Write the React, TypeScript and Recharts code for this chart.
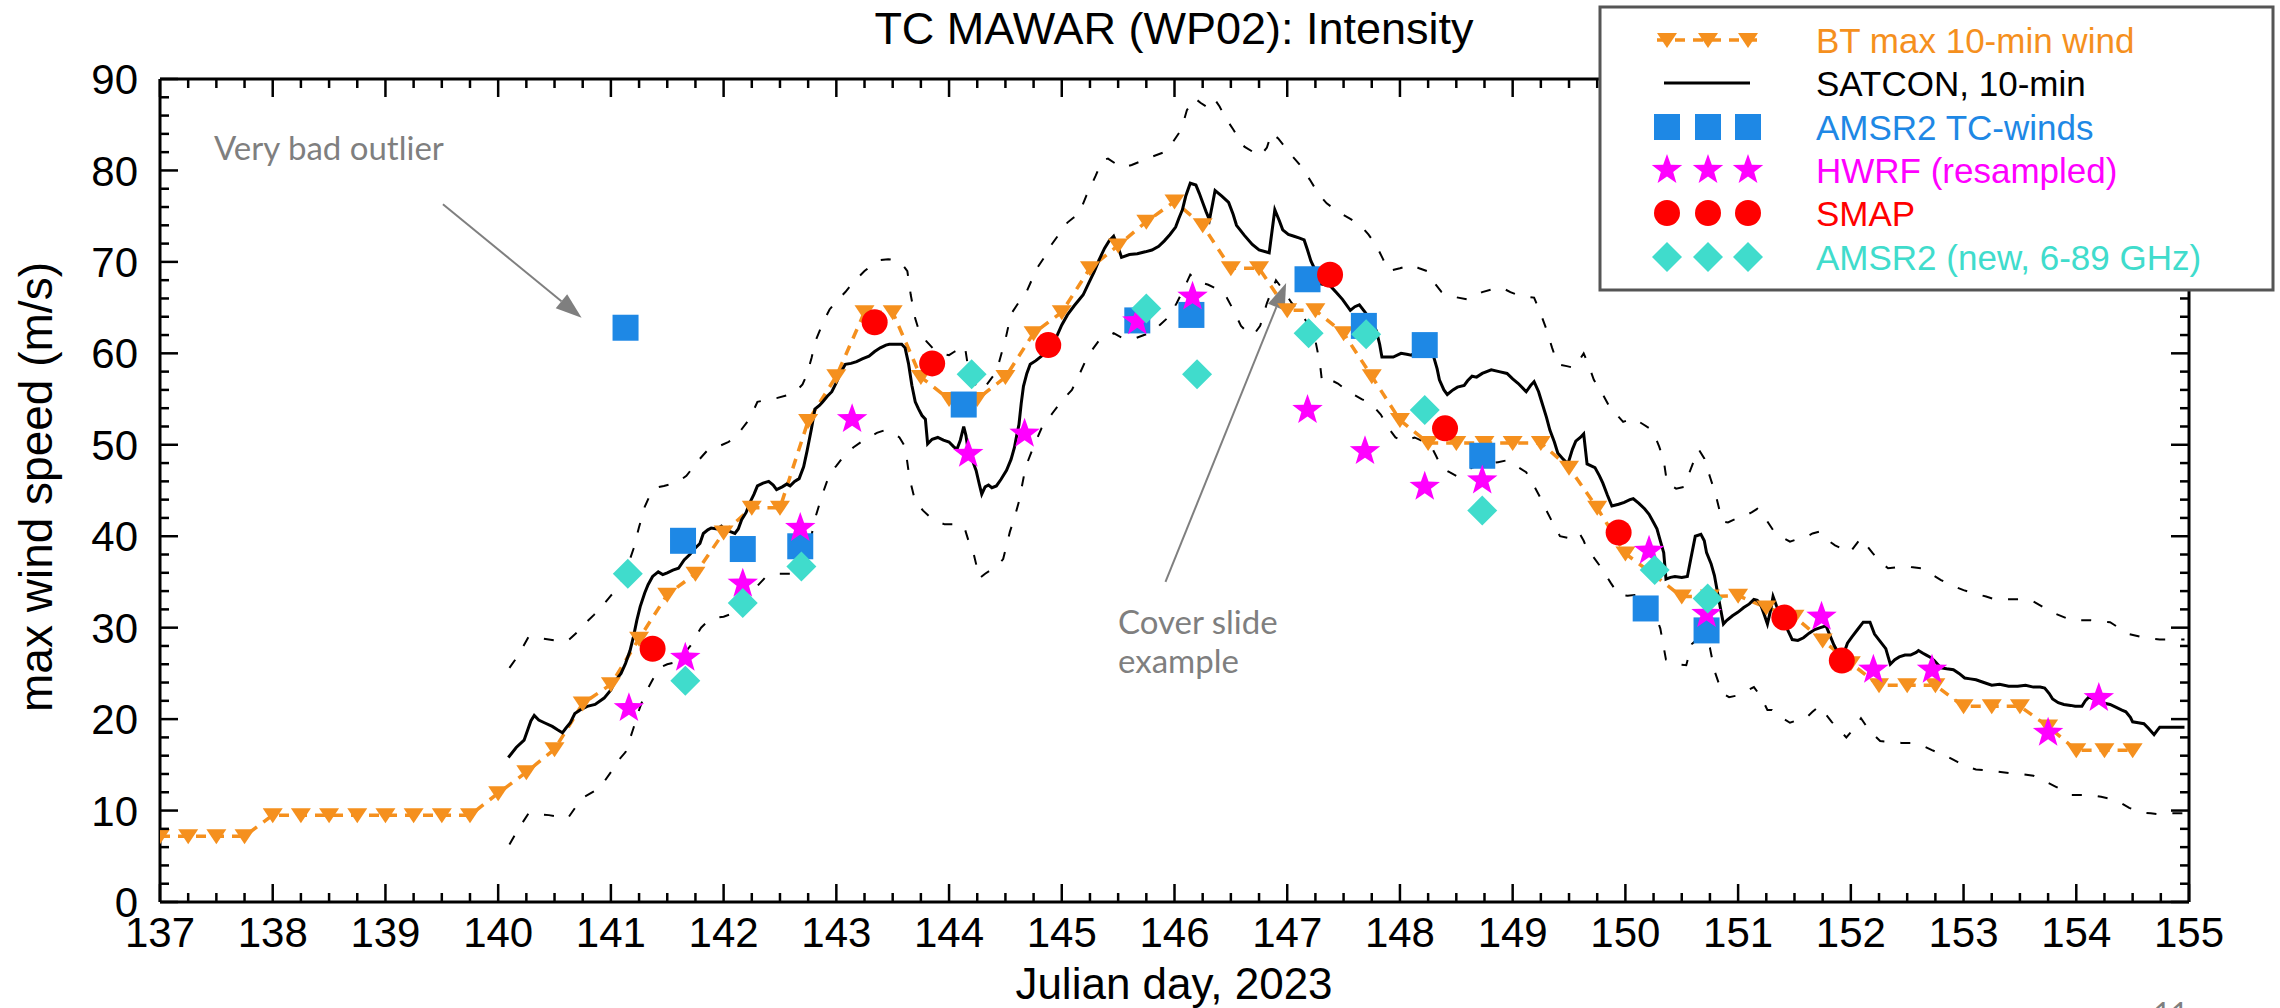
import React from "react";
import {ComposedChart, Line, Scatter, XAxis, YAxis, ReferenceLine} from "recharts";

// day of year, max wind (m/s)
const btTrack: [number, number][] = [
    [137.0, 7.2], [137.25, 7.2], [137.5, 7.2], [137.75, 7.2],
    [138.0, 9.5], [138.25, 9.5], [138.5, 9.5], [138.75, 9.5], [139.0, 9.5], [139.25, 9.5], [139.5, 9.5], [139.75, 9.5],
    [140.0, 11.9], [140.25, 14.2], [140.5, 16.7], [140.75, 21.7], [141.0, 23.8], [141.25, 28.8], [141.5, 33.6], [141.75, 35.9],
    [142.0, 40.4], [142.25, 43.1], [142.5, 43.1], [142.75, 52.6], [143.0, 57.5], [143.25, 64.5], [143.5, 64.5], [143.75, 57.4],
    [144.0, 55.0], [144.25, 55.0], [144.5, 57.4], [144.75, 62.2], [145.0, 64.5], [145.25, 69.3], [145.5, 71.8], [145.75, 74.4],
    [146.0, 76.6], [146.25, 74.0], [146.5, 69.3], [146.75, 69.3], [147.0, 64.7], [147.25, 64.7], [147.5, 62.2], [147.75, 57.5],
    [148.0, 52.7], [148.25, 50.2], [148.5, 50.2], [148.75, 50.2], [149.0, 50.2], [149.25, 50.2], [149.5, 47.5], [149.75, 43.1],
    [150.0, 38.1], [150.25, 35.8], [150.5, 33.4], [150.75, 33.4], [151.0, 33.5], [151.25, 32.2], [151.5, 31.2], [151.75, 28.6],
    [152.0, 26.1], [152.25, 23.7], [152.5, 23.7], [152.75, 23.7], [153.0, 21.4], [153.25, 21.4], [153.5, 21.4], [153.75, 19.2],
    [154.0, 16.6], [154.25, 16.6], [154.5, 16.6],
];

const satconTrack: [number, number][] = [
    [140.09, 15.8], [140.16, 16.9], [140.23, 17.7], [140.29, 19.8], [140.32, 20.4], [140.36, 19.9], [140.41, 19.6], [140.48, 19.2],
    [140.53, 18.8], [140.57, 18.5], [140.6, 19.0], [140.64, 19.6], [140.68, 20.6], [140.74, 21.1], [140.79, 21.4], [140.86, 21.6],
    [140.94, 22.3], [141.0, 23.2], [141.04, 24.2], [141.09, 25.0], [141.13, 26.1], [141.17, 27.5], [141.2, 29.0], [141.23, 30.8],
    [141.26, 32.3], [141.3, 33.8], [141.33, 34.7], [141.37, 35.6], [141.42, 36.1], [141.46, 35.8], [141.5, 36.0], [141.55, 36.3],
    [141.6, 36.5], [141.65, 37.4], [141.7, 38.0], [141.74, 38.6], [141.79, 39.2], [141.82, 40.3], [141.86, 40.7], [141.89, 40.9],
    [141.94, 40.8], [141.98, 41.1], [142.02, 40.6], [142.06, 40.5], [142.1, 40.3], [142.13, 40.8], [142.16, 41.8], [142.2, 42.6],
    [142.23, 43.6], [142.27, 44.6], [142.3, 45.5], [142.35, 45.8], [142.4, 46.0], [142.44, 45.6], [142.47, 45.1], [142.52, 45.4],
    [142.56, 45.7], [142.59, 45.5], [142.63, 46.0], [142.67, 46.3], [142.71, 47.6], [142.74, 49.3], [142.78, 51.8], [142.81, 53.9],
    [142.85, 54.3], [142.88, 54.7], [142.92, 55.3], [142.96, 55.8], [143.0, 56.8], [143.03, 57.7], [143.08, 58.8], [143.13, 58.9],
    [143.18, 59.1], [143.23, 59.4], [143.29, 59.7], [143.34, 60.2], [143.39, 60.6], [143.44, 60.9], [143.47, 61.0], [143.52, 61.0],
    [143.58, 61.0], [143.61, 60.6], [143.64, 58.9], [143.67, 56.5], [143.7, 54.7], [143.73, 53.9], [143.76, 53.2], [143.79, 52.8],
    [143.81, 50.1], [143.85, 50.6], [143.9, 50.8], [143.95, 50.5], [144.0, 50.3], [144.04, 49.8], [144.07, 49.5], [144.1, 50.5],
    [144.13, 52.0], [144.15, 51.0], [144.17, 49.3], [144.21, 48.2], [144.24, 47.2], [144.27, 45.6], [144.29, 44.6], [144.32, 45.4],
    [144.35, 45.6], [144.38, 45.3], [144.42, 45.5], [144.46, 46.2], [144.51, 47.2], [144.55, 48.4], [144.58, 49.7], [144.6, 51.0],
    [144.62, 52.2], [144.64, 54.5], [144.66, 56.4], [144.69, 57.8], [144.72, 58.8], [144.77, 59.2], [144.82, 59.7], [144.87, 60.3],
    [144.92, 61.0], [144.96, 62.0], [145.0, 63.1], [145.05, 64.2], [145.11, 65.2], [145.15, 65.8], [145.19, 66.4], [145.24, 67.7],
    [145.29, 69.0], [145.33, 70.2], [145.38, 71.5], [145.42, 72.3], [145.46, 72.8], [145.5, 71.6], [145.53, 70.5], [145.6, 70.8],
    [145.67, 70.9], [145.74, 71.1], [145.8, 71.3], [145.86, 71.7], [145.91, 72.3], [145.96, 73.0], [146.01, 73.8], [146.04, 74.8],
    [146.07, 75.7], [146.1, 77.2], [146.14, 78.6], [146.19, 78.4], [146.22, 77.5], [146.25, 76.5], [146.28, 75.5], [146.31, 74.6],
    [146.34, 76.5], [146.36, 77.8], [146.42, 77.2], [146.48, 76.5], [146.52, 75.2], [146.55, 74.0], [146.62, 72.9], [146.69, 71.9],
    [146.75, 71.3], [146.84, 71.0], [146.89, 75.7], [146.93, 74.5], [146.96, 73.5], [147.01, 73.0], [147.06, 72.8], [147.11, 72.6],
    [147.15, 72.4], [147.18, 71.3], [147.21, 70.1], [147.26, 68.8], [147.3, 67.6], [147.38, 67.4], [147.44, 66.6], [147.49, 65.9],
    [147.56, 64.7], [147.6, 65.1], [147.64, 65.3], [147.69, 64.5], [147.73, 63.8], [147.79, 62.5], [147.82, 61.0], [147.84, 59.6],
    [147.9, 59.6], [147.94, 59.6], [148.01, 60.0], [148.06, 59.9], [148.1, 59.8], [148.16, 60.3], [148.22, 60.9], [148.27, 60.2],
    [148.3, 59.6], [148.33, 58.3], [148.35, 57.1], [148.39, 56.0], [148.42, 55.5], [148.47, 56.0], [148.51, 56.3], [148.57, 56.5],
    [148.6, 57.0], [148.64, 57.5], [148.68, 57.4], [148.73, 57.8], [148.81, 58.2], [148.88, 58.0], [148.95, 57.8], [149.0, 57.2],
    [149.05, 56.7], [149.12, 55.8], [149.16, 56.5], [149.19, 56.9], [149.23, 55.8], [149.26, 54.6], [149.3, 53.0], [149.33, 51.6],
    [149.37, 50.3], [149.4, 49.1], [149.45, 48.4], [149.49, 47.9], [149.53, 49.5], [149.56, 50.4], [149.6, 50.8], [149.63, 51.2],
    [149.66, 47.9], [149.73, 47.5], [149.77, 46.6], [149.8, 45.8], [149.84, 44.5], [149.88, 43.3], [149.94, 43.5], [149.99, 43.7],
    [150.04, 44.0], [150.07, 44.1], [150.12, 43.6], [150.17, 43.0], [150.21, 42.4], [150.25, 41.5], [150.28, 40.8], [150.31, 39.5],
    [150.34, 38.2], [150.36, 35.3], [150.4, 35.5], [150.44, 35.6], [150.5, 35.5], [150.55, 35.6], [150.58, 37.5], [150.62, 40.0],
    [150.67, 40.2], [150.7, 39.5], [150.72, 38.2], [150.76, 37.0], [150.79, 35.7], [150.83, 33.0], [150.87, 30.4], [150.9, 30.8],
    [150.95, 31.3], [151.0, 31.7], [151.05, 32.2], [151.1, 32.6], [151.14, 33.1], [151.17, 33.0], [151.2, 32.5], [151.23, 31.5],
    [151.26, 30.4], [151.29, 32.0], [151.31, 33.4], [151.34, 32.4], [151.38, 31.2], [151.43, 30.0], [151.48, 28.7], [151.53, 28.6],
    [151.58, 28.9], [151.63, 29.4], [151.68, 29.8], [151.73, 30.0], [151.78, 30.2], [151.82, 29.0], [151.85, 28.1], [151.89, 27.2],
    [151.92, 26.9], [151.95, 27.6], [151.97, 28.3], [152.01, 29.0], [152.06, 29.8], [152.11, 30.6], [152.17, 30.6], [152.21, 29.3],
    [152.26, 28.5], [152.31, 27.7], [152.35, 26.0], [152.39, 26.5], [152.43, 26.8], [152.48, 27.0], [152.53, 27.0], [152.58, 27.3],
    [152.6, 27.5], [152.64, 27.2], [152.67, 27.0], [152.7, 26.8], [152.74, 26.4], [152.8, 25.6], [152.85, 25.5], [152.91, 25.4],
    [152.96, 25.0], [153.01, 24.5], [153.06, 24.4], [153.11, 24.3], [153.18, 24.0], [153.25, 23.7], [153.32, 23.8], [153.4, 23.6],
    [153.48, 23.6], [153.55, 23.7], [153.62, 23.5], [153.68, 23.5], [153.72, 23.4], [153.76, 22.8], [153.79, 22.2], [153.84, 21.8],
    [153.89, 21.6], [153.95, 21.5], [153.99, 21.4], [154.05, 21.4], [154.08, 22.0], [154.11, 22.4], [154.16, 22.2], [154.21, 21.9],
    [154.26, 21.7], [154.3, 21.6], [154.35, 21.3], [154.4, 21.0], [154.44, 20.8], [154.48, 20.2], [154.5, 19.7], [154.55, 19.6],
    [154.6, 19.5], [154.64, 19.0], [154.69, 18.3], [154.72, 18.8], [154.74, 19.1], [154.85, 19.1], [154.96, 19.1],
];

const satconUpper: [number, number][] = [
    [140.1, 25.6], [140.18, 27.0], [140.27, 29.0], [140.35, 28.9], [140.45, 28.7], [140.55, 28.5], [140.62, 28.6], [140.7, 29.5],
    [140.75, 30.2], [140.85, 31.4], [140.92, 32.3], [141.0, 33.5], [141.09, 34.8], [141.15, 36.8], [141.2, 38.6], [141.25, 41.0],
    [141.3, 43.2], [141.35, 44.6], [141.4, 45.3], [141.47, 45.5], [141.53, 45.7], [141.6, 46.0], [141.67, 46.6], [141.72, 47.4],
    [141.77, 48.2], [141.85, 49.3], [141.92, 49.8], [141.97, 49.9], [142.04, 50.3], [142.11, 50.8], [142.16, 51.7], [142.21, 52.5],
    [142.26, 53.6], [142.3, 54.7], [142.38, 54.9], [142.47, 55.1], [142.56, 55.4], [142.64, 55.8], [142.7, 56.6], [142.74, 57.7],
    [142.78, 59.5], [142.82, 61.5], [142.88, 63.3], [142.94, 64.8], [143.01, 65.8], [143.08, 66.7], [143.16, 67.9], [143.25, 69.0],
    [143.32, 69.7], [143.39, 70.2], [143.46, 70.3], [143.52, 70.2], [143.58, 69.8], [143.63, 69.0], [143.66, 66.4], [143.7, 63.8],
    [143.73, 62.6], [143.8, 61.3], [143.86, 60.5], [143.92, 60.0], [144.0, 59.8], [144.05, 60.2], [144.1, 60.5], [144.14, 60.8],
    [144.17, 58.4], [144.2, 57.7], [144.25, 56.0], [144.33, 56.5], [144.42, 58.0], [144.5, 61.5], [144.55, 64.3], [144.62, 65.6],
    [144.69, 66.8], [144.74, 68.2], [144.78, 69.3], [144.85, 70.6], [144.91, 71.9], [144.98, 73.1], [145.05, 74.3], [145.1, 74.8],
    [145.15, 75.2], [145.22, 77.3], [145.3, 79.4], [145.36, 81.1], [145.41, 81.3], [145.47, 80.8], [145.54, 80.3], [145.62, 80.6],
    [145.7, 81.0], [145.8, 81.5], [145.91, 82.0], [145.98, 83.0], [146.04, 84.1], [146.08, 85.3], [146.11, 86.6], [146.15, 87.3],
    [146.18, 87.9], [146.23, 87.4], [146.28, 87.0], [146.32, 87.5], [146.35, 87.9], [146.4, 87.0], [146.45, 85.8], [146.52, 84.5],
    [146.57, 83.5], [146.62, 82.6], [146.7, 82.0], [146.76, 81.6], [146.82, 82.5], [146.86, 84.1], [146.92, 83.5], [146.99, 82.4],
    [147.05, 81.5], [147.12, 80.5], [147.2, 79.0], [147.28, 77.4], [147.35, 76.4], [147.45, 75.5], [147.56, 74.7], [147.65, 74.0],
    [147.72, 73.0], [147.79, 71.8], [147.85, 70.3], [147.9, 69.0], [148.0, 69.3], [148.1, 69.7], [148.17, 69.3], [148.24, 69.0],
    [148.3, 67.8], [148.37, 66.7], [148.47, 66.2], [148.6, 65.9], [148.67, 66.3], [148.73, 66.7], [148.82, 67.0], [148.9, 67.2],
    [148.98, 66.7], [149.06, 66.3], [149.12, 66.2], [149.19, 66.1], [149.25, 64.3], [149.3, 62.6], [149.35, 60.6], [149.4, 58.8],
    [149.48, 58.6], [149.55, 58.4], [149.63, 60.0], [149.68, 58.5], [149.72, 57.1], [149.8, 55.5], [149.87, 53.9], [149.93, 53.2],
    [149.98, 52.5], [150.07, 52.9], [150.15, 52.3], [150.24, 51.6], [150.3, 49.8], [150.34, 48.3], [150.37, 45.8], [150.45, 45.2],
    [150.52, 45.4], [150.6, 48.0], [150.65, 49.5], [150.7, 48.5], [150.75, 46.5], [150.8, 44.6], [150.86, 41.6], [150.91, 41.5],
    [150.98, 41.9], [151.05, 42.2], [151.12, 42.6], [151.17, 43.0], [151.22, 42.6], [151.26, 41.6], [151.33, 40.3], [151.4, 39.8],
    [151.46, 39.4], [151.53, 39.7], [151.6, 39.9], [151.66, 40.3], [151.72, 40.5], [151.79, 39.6], [151.86, 39.0], [151.93, 38.6],
    [151.99, 38.2], [152.04, 39.0], [152.09, 39.8], [152.14, 39.0], [152.19, 38.2], [152.26, 37.2], [152.33, 36.5], [152.4, 36.6],
    [152.47, 36.7], [152.55, 36.6], [152.63, 36.5], [152.72, 35.8], [152.8, 35.2], [152.9, 34.6], [153.0, 34.1], [153.11, 33.7],
    [153.2, 33.4], [153.28, 33.1], [153.4, 33.1], [153.5, 33.1], [153.6, 33.0], [153.7, 32.3], [153.82, 31.5], [153.96, 30.8],
    [154.05, 30.8], [154.13, 30.8], [154.22, 30.7], [154.3, 30.6], [154.4, 29.8], [154.47, 29.3], [154.57, 29.0], [154.66, 28.8],
    [154.74, 28.7], [154.85, 28.7], [154.96, 28.7],
];

const satconLower: [number, number][] = [
    [140.1, 6.3], [140.18, 8.0], [140.27, 9.7], [140.35, 9.6], [140.45, 9.5], [140.55, 9.3], [140.62, 9.2], [140.7, 10.6],
    [140.75, 11.4], [140.85, 12.1], [140.92, 12.8], [141.0, 14.2], [141.06, 15.4], [141.13, 16.4], [141.2, 19.0], [141.25, 21.0],
    [141.3, 22.7], [141.37, 24.3], [141.43, 25.6], [141.5, 26.0], [141.57, 26.2], [141.64, 27.0], [141.71, 28.1], [141.76, 29.2],
    [141.8, 30.0], [141.86, 30.7], [141.94, 31.1], [142.0, 31.2], [142.07, 31.5], [142.14, 32.2], [142.21, 32.9], [142.28, 34.3],
    [142.37, 35.5], [142.47, 35.9], [142.56, 35.9], [142.64, 35.9], [142.7, 37.5], [142.77, 39.6], [142.82, 42.3], [142.88, 44.7],
    [142.94, 46.8], [143.0, 47.7], [143.05, 48.5], [143.15, 49.7], [143.22, 50.3], [143.29, 50.8], [143.36, 51.3], [143.43, 51.6],
    [143.5, 51.3], [143.56, 50.8], [143.61, 49.8], [143.65, 46.3], [143.7, 43.8], [143.77, 42.8], [143.83, 42.1], [143.9, 41.6],
    [143.96, 41.3], [144.03, 41.3], [144.1, 41.3], [144.14, 40.8], [144.17, 39.6], [144.22, 38.0], [144.27, 35.4], [144.32, 35.9],
    [144.37, 36.3], [144.43, 36.8], [144.48, 37.5], [144.54, 40.5], [144.58, 42.0], [144.62, 43.8], [144.68, 47.6], [144.75, 49.8],
    [144.82, 51.8], [144.92, 53.5], [145.0, 54.8], [145.09, 56.0], [145.16, 57.8], [145.23, 59.7], [145.33, 61.4], [145.46, 62.2],
    [145.55, 61.6], [145.64, 61.6], [145.73, 62.0], [145.8, 62.3], [145.87, 63.1], [145.95, 64.0], [146.02, 65.5], [146.08, 67.0],
    [146.14, 68.6], [146.22, 67.8], [146.3, 67.5], [146.38, 67.0], [146.45, 66.4], [146.52, 64.8], [146.59, 63.0], [146.64, 62.4],
    [146.7, 62.0], [146.76, 63.0], [146.82, 65.5], [146.9, 68.0], [146.96, 67.0], [147.04, 65.5], [147.13, 64.3], [147.2, 62.8],
    [147.25, 61.4], [147.29, 58.9], [147.31, 56.8], [147.4, 57.0], [147.45, 56.7], [147.52, 56.0], [147.59, 55.5], [147.66, 55.0],
    [147.73, 54.6], [147.78, 54.0], [147.83, 53.3], [147.9, 51.8], [147.96, 50.8], [148.03, 50.4], [148.13, 50.8], [148.2, 50.4],
    [148.27, 50.0], [148.32, 48.8], [148.37, 47.5], [148.44, 47.0], [148.5, 46.6], [148.57, 47.0], [148.64, 47.5], [148.71, 47.7],
    [148.78, 47.9], [148.87, 48.1], [148.95, 48.3], [149.03, 47.7], [149.12, 47.0], [149.19, 45.5], [149.25, 44.1], [149.3, 42.8],
    [149.35, 41.6], [149.42, 40.0], [149.5, 39.8], [149.59, 40.4], [149.63, 39.5], [149.66, 38.6], [149.73, 37.5], [149.8, 36.3],
    [149.87, 34.9], [149.94, 33.6], [150.02, 33.5], [150.1, 33.6], [150.14, 33.6], [150.2, 33.0], [150.24, 32.4], [150.31, 29.9],
    [150.36, 26.5], [150.45, 26.0], [150.54, 25.9], [150.59, 28.2], [150.66, 29.0], [150.71, 28.5], [150.75, 27.8], [150.79, 25.3],
    [150.86, 22.8], [150.92, 22.4], [151.0, 22.6], [151.06, 23.0], [151.14, 23.5], [151.2, 22.5], [151.26, 21.0], [151.3, 21.0],
    [151.38, 20.2], [151.46, 19.6], [151.53, 19.9], [151.6, 20.1], [151.66, 20.8], [151.72, 21.4], [151.78, 20.5], [151.83, 19.7],
    [151.9, 18.8], [151.96, 18.0], [152.03, 19.0], [152.09, 20.1], [152.15, 19.0], [152.21, 18.2], [152.26, 17.6], [152.35, 17.5],
    [152.45, 17.4], [152.53, 17.4], [152.62, 17.2], [152.72, 16.6], [152.84, 16.0], [152.95, 15.3], [153.03, 14.8], [153.11, 14.5],
    [153.2, 14.4], [153.28, 14.3], [153.4, 14.1], [153.5, 14.0], [153.62, 13.8], [153.72, 13.2], [153.82, 12.6], [153.9, 12.1],
    [153.96, 11.7], [154.05, 11.7], [154.13, 11.7], [154.22, 11.5], [154.3, 11.3], [154.4, 10.8], [154.47, 10.3], [154.57, 9.8],
    [154.66, 9.7], [154.74, 9.6], [154.85, 9.7], [154.96, 9.7],
];

const amsr2TcWinds: [number, number][] = [
    [141.13, 62.8], [141.64, 39.5], [142.17, 38.6], [142.68, 38.9], [144.13, 54.4], [145.67, 63.6], [146.15, 64.2],
    [147.18, 68.1], [147.68, 63.0], [148.22, 60.9], [148.73, 48.8], [150.18, 32.1], [150.72, 29.7],
];

const hwrfResampled: [number, number][] = [
    [141.16, 21.2], [141.66, 26.7], [142.17, 34.8], [142.68, 40.9], [143.14, 52.8], [144.17, 49.0], [144.67, 51.2],
    [145.67, 63.5], [146.16, 66.2], [147.18, 53.8], [147.69, 49.3], [148.22, 45.4], [148.73, 46.1], [150.21, 38.4],
    [150.72, 31.5], [151.74, 31.2], [152.2, 25.4], [152.72, 25.4], [153.75, 18.5], [154.2, 22.3],
];

const smapWinds: [number, number][] = [
    [141.37, 27.7], [143.34, 63.4], [143.85, 58.9], [144.88, 60.9], [147.38, 68.6], [148.4, 51.8], [149.94, 40.4],
    [151.41, 31.1], [151.92, 26.4],
];

const amsr2New: [number, number][] = [
    [141.15, 35.9], [141.66, 24.2], [142.17, 32.7], [142.69, 36.7], [144.2, 57.7], [145.75, 64.9], [146.2, 57.7],
    [147.19, 62.2], [147.7, 62.1], [148.22, 53.8], [148.73, 42.8], [150.26, 36.3], [150.73, 33.2],
];

const dayLabels = [137, 138, 139, 140, 141, 142, 143, 144, 145, 146, 147, 148, 149, 150, 151, 152, 153, 154, 155];
const speedLabels = [0, 10, 20, 30, 40, 50, 60, 70, 80, 90];
const dayTicks = Array.from({length: 73}, (_, k) => 137 + k * 0.25);
const speedTicks = Array.from({length: 46}, (_, k) => k * 2);

const legendNames = [
    'BT max 10-min wind',
    'SATCON, 10-min',
    'AMSR2 TC-winds',
    'HWRF (resampled)',
    'SMAP',
    'AMSR2 (new, 6-89 GHz)',
];

const ORANGE = '#F5901E';
const BLUE = '#1E88E5';
const MAGENTA = '#FF00FF';
const RED = '#FF0000';
const TURQ = '#40DCCC';
const GRAY = '#7F7F7F';
const legendColors = [ORANGE, '#000000', BLUE, MAGENTA, RED, TURQ];

const W = 2280;
const H = 1008;
const PLOT_L = 160, PLOT_R = 2189, PLOT_T = 79, PLOT_B = 902;
const PLOT_W = PLOT_R - PLOT_L;
const PLOT_H = PLOT_B - PLOT_T;
const FONT = '"Liberation Sans", Arial, Helvetica, sans-serif';
const NOTE_FONT = 'Lato, "Open Sans", sans-serif';

const toPoints = (rows: [number, number][]) => rows.map(([d, v]) => ({d, v}));

function starPoints(cx: number, cy: number, R: number, r: number) {
    const pts: string[] = [];
    for (let i = 0; i < 10; i++) {
        const a = -Math.PI / 2 + i * Math.PI / 5;
        const rad = i % 2 === 0 ? R : r;
        pts.push(`${cx + rad * Math.cos(a)},${cy + rad * Math.sin(a)}`);
    }
    return pts.join(' ');
}

const tri = (cx: number, cy: number) => `${cx - 10},${cy - 7} ${cx + 10},${cy - 7} ${cx},${cy + 8}`;

function SquareMark({cx, cy, fill}: any) {
    return <rect x={cx - 13} y={cy - 13} width={26} height={26} fill={fill}/>;
}

function StarMark({cx, cy, fill}: any) {
    return <polygon points={starPoints(cx, cy, 16, 6.5)} fill={fill}/>;
}

function CircleMark({cx, cy, fill}: any) {
    return <circle cx={cx} cy={cy} r={13} fill={fill}/>;
}

function DiamondMark({cx, cy, fill}: any) {
    return <polygon points={`${cx},${cy - 15} ${cx + 15},${cy} ${cx},${cy + 15} ${cx - 15},${cy}`} fill={fill}/>;
}

function BtDot({cx, cy, index}: any) {
    if (cx == null || cy == null) return null;
    return <polygon key={`bt-${index}`} points={tri(cx, cy)} fill={ORANGE}/>;
}

function DayTick({x, y, payload}: any) {
    const major = dayLabels.includes(payload.value);
    const len = major ? 18 : 9;
    return (
        <g>
            <line x1={x} x2={x} y1={y} y2={y - len} stroke="#000" strokeWidth={2.5}/>
            <line x1={x} x2={x} y1={y - PLOT_H} y2={y - PLOT_H + len} stroke="#000" strokeWidth={2.5}/>
            {major && (
                <text x={x} y={y + 45} textAnchor="middle" fontSize={42} fontFamily={FONT} fill="#000">
                    {payload.value}
                </text>
            )}
        </g>
    );
}

function SpeedTick({x, y, payload}: any) {
    const major = speedLabels.includes(payload.value);
    const len = major ? 18 : 9;
    return (
        <g>
            <line x1={x} x2={x + len} y1={y} y2={y} stroke="#000" strokeWidth={2.5}/>
            <line x1={x + PLOT_W} x2={x + PLOT_W - len} y1={y} y2={y} stroke="#000" strokeWidth={2.5}/>
            {major && (
                <text x={x - 22} y={y} dy="0.36em" textAnchor="end" fontSize={42} fontFamily={FONT} fill="#000">
                    {payload.value}
                </text>
            )}
        </g>
    );
}

function Arrow({x1, y1, x2, y2}: any) {
    if (x1 == null) return null;
    const ang = Math.atan2(y2 - y1, x2 - x1);
    const hl = 26, hw = 9;
    const bx = x2 - hl * Math.cos(ang), by = y2 - hl * Math.sin(ang);
    const px = -Math.sin(ang) * hw, py = Math.cos(ang) * hw;
    return (
        <g>
            <line x1={x1} y1={y1} x2={bx} y2={by} stroke={GRAY} strokeWidth={2}/>
            <polygon points={`${x2},${y2} ${bx + px},${by + py} ${bx - px},${by - py}`} fill={GRAY}/>
        </g>
    );
}

function LegendBox() {
    const rowY = [40, 83, 127, 170, 213, 257];
    const symX = [1667, 1708, 1748];
    const marks = [
        null,
        null,
        (x: number, y: number) => <rect x={x - 13} y={y - 13} width={26} height={26} fill={BLUE}/>,
        (x: number, y: number) => <polygon points={starPoints(x, y, 16, 6.5)} fill={MAGENTA}/>,
        (x: number, y: number) => <circle cx={x} cy={y} r={13} fill={RED}/>,
        (x: number, y: number) => <polygon points={`${x},${y - 15} ${x + 15},${y} ${x},${y + 15} ${x - 15},${y}`} fill={TURQ}/>,
    ];
    return (
        <g>
            <rect x={1600} y={7} width={673} height={283} fill="#fff" stroke="#555" strokeWidth={3}/>
            <line x1={1657} x2={1758} y1={rowY[0]} y2={rowY[0]} stroke={ORANGE} strokeWidth={3.5} strokeDasharray="10 8"/>
            {symX.map(x => <polygon key={`lt${x}`} points={tri(x, rowY[0])} fill={ORANGE}/>)}
            <line x1={1664} x2={1750} y1={rowY[1]} y2={rowY[1]} stroke="#000" strokeWidth={3}/>
            {marks.map((m, i) => m && symX.map(x => <g key={`lm${i}-${x}`}>{m(x, rowY[i])}</g>))}
            {legendNames.map((name, i) => (
                <text key={name} x={1816} y={rowY[i]} dy="0.36em" fontSize={35} fontFamily={FONT} fill={legendColors[i]}>
                    {name}
                </text>
            ))}
        </g>
    );
}

export default function App() {
    return (
        <div style={{position: 'absolute', left: 0, top: 0, width: W, height: H, background: '#fff', overflow: 'hidden'}}>
            <ComposedChart width={W} height={H} margin={{top: PLOT_T, right: W - PLOT_R, bottom: H - PLOT_B - 10, left: PLOT_L - 10}}>
                <XAxis dataKey="d" type="number" domain={[137, 155]} allowDataOverflow ticks={dayTicks} interval={0}
                       height={10} tickSize={0} tickMargin={0} tickLine={false} tick={<DayTick/>}
                       axisLine={{stroke: '#000', strokeWidth: 3}}/>
                <YAxis type="number" domain={[0, 90]} allowDataOverflow ticks={speedTicks} interval={0}
                       width={10} tickSize={0} tickMargin={0} tickLine={false} tick={<SpeedTick/>}
                       axisLine={{stroke: '#000', strokeWidth: 3}}/>
                <ReferenceLine y={90} stroke="#000" strokeWidth={3}/>
                <ReferenceLine x={155} stroke="#000" strokeWidth={3}/>
                <Line data={toPoints(btTrack)} dataKey="v" type="linear" stroke={ORANGE} strokeWidth={3.5}
                      strokeDasharray="10 8" dot={<BtDot/>} activeDot={false} isAnimationActive={false}/>
                <Line data={toPoints(satconTrack)} dataKey="v" type="linear" stroke="#000" strokeWidth={3}
                      dot={false} activeDot={false} isAnimationActive={false}/>
                <Scatter data={toPoints(amsr2TcWinds)} dataKey="v" fill={BLUE} shape={SquareMark} isAnimationActive={false}/>
                <Scatter data={toPoints(hwrfResampled)} dataKey="v" fill={MAGENTA} shape={StarMark} isAnimationActive={false}/>
                <Scatter data={toPoints(smapWinds)} dataKey="v" fill={RED} shape={CircleMark} isAnimationActive={false}/>
                <Scatter data={toPoints(amsr2New)} dataKey="v" fill={TURQ} shape={DiamondMark} isAnimationActive={false}/>
                <Line data={toPoints(satconUpper)} dataKey="v" type="linear" stroke="#000" strokeWidth={2}
                      strokeDasharray="10 16" dot={false} activeDot={false} isAnimationActive={false}/>
                <Line data={toPoints(satconLower)} dataKey="v" type="linear" stroke="#000" strokeWidth={2}
                      strokeDasharray="10 16" dot={false} activeDot={false} isAnimationActive={false}/>
                <ReferenceLine segment={[{x: 139.51, y: 76.3}, {x: 140.74, y: 63.9}]} shape={Arrow}/>
                <ReferenceLine segment={[{x: 145.92, y: 35.0}, {x: 146.99, y: 67.7}]} shape={Arrow}/>
            </ComposedChart>
            <svg width={W} height={H} style={{position: 'absolute', left: 0, top: 0, pointerEvents: 'none'}}>
                <text x={1174} y={44} textAnchor="middle" fontSize={45} fontFamily={FONT} fill="#000">
                    TC MAWAR (WP02): Intensity
                </text>
                <text transform="translate(52, 487) rotate(-90)" textAnchor="middle" fontSize={46} fontFamily={FONT} fill="#000">
                    max wind speed (m/s)
                </text>
                <text x={1174} y={999} textAnchor="middle" fontSize={44} fontFamily={FONT} fill="#000">
                    Julian day, 2023
                </text>
                <text x={214} y={160} fontSize={33} fontFamily={NOTE_FONT} fill={GRAY}>Very bad outlier</text>
                <text x={1118} y={634} fontSize={33} fontFamily={NOTE_FONT} fill={GRAY}>Cover slide</text>
                <text x={1118} y={673} fontSize={33} fontFamily={NOTE_FONT} fill={GRAY}>example</text>
                <text x={2171} y={1024} textAnchor="middle" fontSize={30} fontFamily={NOTE_FONT} fill={GRAY}>11</text>
                <LegendBox/>
            </svg>
        </div>
    );
}
